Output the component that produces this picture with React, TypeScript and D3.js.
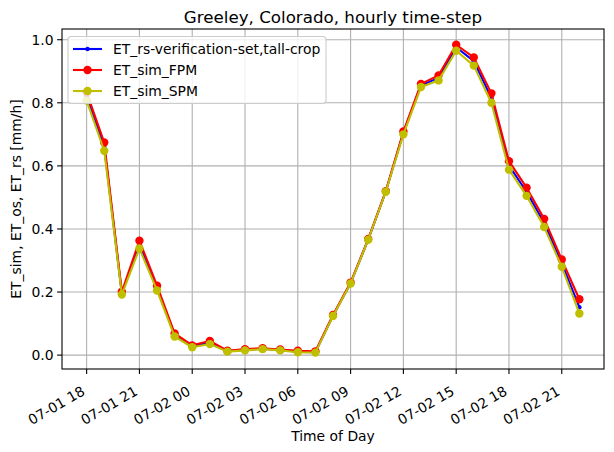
import React, { useEffect } from "react";
import * as d3 from "d3";

// hourly timestamps (July 1-2)
const times = [
  "07-01 18", "07-01 19", "07-01 20", "07-01 21", "07-01 22", "07-01 23",
  "07-02 00", "07-02 01", "07-02 02", "07-02 03", "07-02 04", "07-02 05",
  "07-02 06", "07-02 07", "07-02 08", "07-02 09", "07-02 10", "07-02 11",
  "07-02 12", "07-02 13", "07-02 14", "07-02 15", "07-02 16", "07-02 17",
  "07-02 18", "07-02 19", "07-02 20", "07-02 21", "07-02 22",
];

const etRs = [
  0.82, 0.66, 0.196, 0.35, 0.212, 0.064, 0.028, 0.04, 0.012, 0.017, 0.02, 0.016,
  0.011, 0.01, 0.125, 0.228, 0.366, 0.519, 0.705, 0.855, 0.879, 0.976, 0.932,
  0.815, 0.601, 0.518, 0.419, 0.291, 0.152,
];
const etFpm = [
  0.833, 0.674, 0.201, 0.363, 0.22, 0.069, 0.031, 0.045, 0.014, 0.019, 0.022, 0.018,
  0.014, 0.012, 0.127, 0.23, 0.368, 0.52, 0.709, 0.86, 0.887, 0.984, 0.944,
  0.83, 0.615, 0.531, 0.432, 0.303, 0.177,
];
const etSpm = [
  0.807, 0.648, 0.192, 0.338, 0.205, 0.059, 0.025, 0.035, 0.011, 0.015, 0.019, 0.015,
  0.009, 0.008, 0.124, 0.227, 0.366, 0.518, 0.7, 0.85, 0.871, 0.965, 0.918,
  0.8, 0.588, 0.505, 0.406, 0.28, 0.132,
];

const yTicks = [0.0, 0.2, 0.4, 0.6, 0.8, 1.0];

const series = [
  { name: "ET_rs-verification-set,tall-crop", values: etRs, color: "#0000ff", r: 2.2 },
  { name: "ET_sim_FPM", values: etFpm, color: "#ff0000", r: 4.2 },
  { name: "ET_sim_SPM", values: etSpm, color: "#bfbf00", r: 4.2 },
];

const W = 614, H = 452;
const L = 62, R = 604, T = 29, B = 369;
const FONT = "DejaVu Sans, sans-serif";

const parse = d3.timeParse("%Y-%m-%d %H");
const dates = times.map(t => parse("2000-" + t) as Date);

export default function App() {
  useEffect(() => {
    document.body.style.margin = "0";
  }, []);

  const pad = 1.4 * 3600 * 1000;
  const x = d3.scaleTime()
    .domain([+dates[0] - pad, +dates[dates.length - 1] + pad])
    .range([L, R]);
  const y = d3.scaleLinear().domain([-0.044, 1.034]).range([B, T]);

  const xTicks = d3.timeHour.every(3)!.range(dates[0], new Date(+dates[dates.length - 1] + 1));
  const fmt = d3.timeFormat("%m-%d %H");

  const line = (vals: number[]) =>
    d3.line<number>().x((_, i) => x(dates[i])).y(v => y(v))(vals) || "";

  return (
    <svg width={W} height={H} style={{ display: "block", background: "#fff" }} fontFamily={FONT}>
      {/* grid */}
      {xTicks.map((t, i) => (
        <line key={"gx" + i} x1={x(t)} x2={x(t)} y1={T} y2={B} stroke="#b0b0b0" strokeWidth={1.1} />
      ))}
      {yTicks.map((v, i) => (
        <line key={"gy" + i} x1={L} x2={R} y1={y(v)} y2={y(v)} stroke="#b0b0b0" strokeWidth={1.1} />
      ))}

      {/* series */}
      {series.map(s => (
        <g key={s.name}>
          <path d={line(s.values)} fill="none" stroke={s.color} strokeWidth={2.1} strokeLinejoin="round" />
          {s.values.map((v, i) => (
            <circle key={i} cx={x(dates[i])} cy={y(v)} r={s.r} fill={s.color} />
          ))}
        </g>
      ))}

      {/* spines */}
      <rect x={L} y={T} width={R - L} height={B - T} fill="none" stroke="#000" strokeWidth={1.1} />

      {/* x ticks */}
      {xTicks.map((t, i) => (
        <g key={"xt" + i}>
          <line x1={x(t)} x2={x(t)} y1={B} y2={B + 4.9} stroke="#000" strokeWidth={1.1} />
          <text
            transform={`translate(${x(t) - 6},${B + 16}) rotate(-30)`}
            textAnchor="end"
            dominantBaseline="hanging"
            fontSize={13.9}
            fill="#000"
          >
            {fmt(t)}
          </text>
        </g>
      ))}

      {/* y ticks */}
      {yTicks.map((v, i) => (
        <g key={"yt" + i}>
          <line x1={L - 4.9} x2={L} y1={y(v)} y2={y(v)} stroke="#000" strokeWidth={1.1} />
          <text x={L - 8.5} y={y(v)} dy="0.35em" textAnchor="end" fontSize={13.9} fill="#000">
            {v.toFixed(1)}
          </text>
        </g>
      ))}

      {/* labels */}
      <text x={(L + R) / 2} y={23} textAnchor="middle" fontSize={16.7} fill="#000">
        Greeley, Colorado, hourly time-step
      </text>
      <text x={(L + R) / 2} y={441} textAnchor="middle" fontSize={13.9} fill="#000">
        Time of Day
      </text>
      <text
        transform={`translate(21,${(T + B) / 2}) rotate(-90)`}
        textAnchor="middle"
        fontSize={13.9}
        fill="#000"
      >
        ET_sim, ET_os, ET_rs [mm/h]
      </text>

      {/* legend */}
      <g>
        <rect x={68} y={36.5} width={258} height={67} rx={3} fill="#fff" fillOpacity={0.8} stroke="#cccccc" strokeWidth={1.1} />
        {series.map((s, i) => {
          const cy = 49 + i * 21;
          return (
            <g key={"lg" + i}>
              <line x1={73} x2={102} y1={cy} y2={cy} stroke={s.color} strokeWidth={2.1} />
              <circle cx={87.5} cy={cy} r={s.r} fill={s.color} />
              <text x={113} y={cy} dy="0.35em" fontSize={13.9} fill="#000">
                {s.name}
              </text>
            </g>
          );
        })}
      </g>
    </svg>
  );
}
